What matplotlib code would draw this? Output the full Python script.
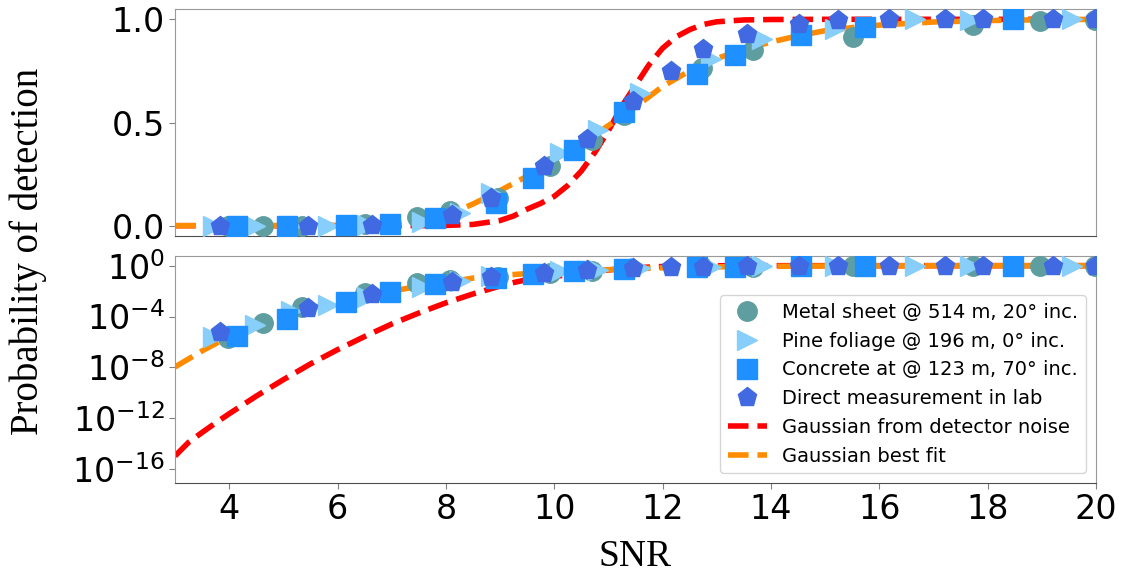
import matplotlib
matplotlib.use("Agg")
import matplotlib.pyplot as plt

# ================== data ==================
# Metal sheet @ 514 m, 20 deg inc.
metal_snr = [3.98, 4.63, 5.34, 6.51, 7.46, 8.08, 8.97, 9.92, 10.69, 11.28,
             12.72, 13.67, 15.52, 17.73, 18.97, 19.98]
metal_pd = [2.0e-6, 3.0e-5, 6.0e-4, 6.8e-3, 0.04, 0.07, 0.134, 0.287, 0.415,
            0.536, 0.762, 0.85, 0.915, 0.971, 0.99, 0.995]

# Pine foliage @ 196 m, 0 deg inc.
pine_snr = [3.71, 4.48, 5.15, 5.83, 6.55, 7.55, 8.26, 8.84, 10.11, 10.81,
            11.58, 12.9, 13.83, 15.18, 16.66, 17.67, 19.55]
pine_pd = [2.6e-6, 2.2e-5, 2.8e-4, 8.0e-4, 3.7e-3, 0.02, 0.061, 0.158, 0.351,
           0.464, 0.641, 0.81, 0.907, 0.955, 1.0, 0.995, 1.0]

# Concrete at @ 123 m, 70 deg inc.
concrete_snr = [4.14, 5.06, 6.15, 6.97, 7.8, 8.92, 9.6, 10.36, 11.28, 12.64,
                13.34, 14.55, 15.74, 18.47]
concrete_pd = [3.2e-6, 6.5e-5, 1.5e-3, 8.0e-3, 0.037, 0.11, 0.23, 0.367,
               0.552, 0.733, 0.826, 0.923, 0.963, 1.0]

# Direct measurement in lab
lab_snr = [3.83, 5.45, 6.64, 8.11, 8.83, 9.81, 10.6, 11.46, 12.15, 12.75,
           13.55, 14.52, 15.24, 16.17, 17.21, 17.91, 19.21, 19.99]
lab_pd = [5.8e-6, 4.5e-4, 5.6e-3, 0.053, 0.134, 0.287, 0.42, 0.605, 0.75,
          0.855, 0.931, 0.979, 0.995, 1.0, 1.0, 1.0, 1.0, 1.0]

# Gaussian from detector noise
noise_snr = [3.0, 3.25, 3.5, 3.75, 4.0, 4.5, 5.0, 5.5, 6.0, 6.5, 7.0, 7.5,
             8.0, 8.5, 9.0, 9.25, 9.5, 9.75, 10.0, 10.25, 10.5, 10.75, 11.0,
             11.25, 11.5, 11.75, 12.0, 12.25, 12.5, 12.75, 13.0, 13.5, 14.0,
             15.0, 16.0, 17.0, 18.0, 19.0, 20.0]
noise_pd = [1.1e-15, 1.3e-14, 7.8e-14, 4.4e-13, 2.3e-12, 5.6e-11, 1.1e-9,
            1.9e-8, 2.5e-7, 2.7e-6, 2.6e-5, 1.9e-4, 1.2e-3, 6.0e-3, 0.025,
            0.047, 0.08, 0.108, 0.142, 0.195, 0.265, 0.355, 0.46, 0.58, 0.68,
            0.78, 0.86, 0.915, 0.95, 0.975, 0.988, 0.997, 0.999, 1.0, 1.0,
            1.0, 1.0, 1.0, 1.0]

# Gaussian best fit
fit_snr = [3.0, 3.5, 4.0, 4.5, 5.0, 5.5, 6.0, 6.5, 7.0, 7.5, 8.0, 8.5, 9.0,
           9.5, 10.0, 10.5, 11.0, 11.5, 12.0, 12.5, 13.0, 13.5, 14.0, 14.5,
           15.0, 15.5, 16.0, 17.0, 18.0, 19.0, 20.0]
fit_pd = [1.1e-8, 2.0e-7, 2.8e-6, 2.2e-5, 1.1e-4, 4.5e-4, 1.4e-3, 4.2e-3,
          0.010, 0.024, 0.048, 0.105, 0.17, 0.24, 0.32, 0.395, 0.485, 0.575,
          0.675, 0.75, 0.81, 0.855, 0.89, 0.92, 0.945, 0.96, 0.972, 0.987,
          0.994, 0.998, 1.0]

SERIES = [
    (metal_snr, metal_pd, "o", "cadetblue", "Metal sheet @ 514 m, 20° inc."),
    (pine_snr, pine_pd, ">", "lightskyblue", "Pine foliage @ 196 m, 0° inc."),
    (concrete_snr, concrete_pd, "s", "dodgerblue", "Concrete at @ 123 m, 70° inc."),
    (lab_snr, lab_pd, "p", "royalblue", "Direct measurement in lab"),
]

# ================== plotting ==================
fig = plt.figure(figsize=(11.26, 5.74), dpi=100)
W, H = 1126, 574
ax_lin = fig.add_axes([175 / W, 1 - 236 / H, 921 / W, 227 / H])
ax_log = fig.add_axes([175 / W, 1 - 483 / H, 921 / W, 227 / H])


def draw(ax):
    for snr, pd_, mk, col, lab in SERIES:
        ax.plot(snr, pd_, linestyle="none", marker=mk, color=col,
                markersize=14, label=lab, zorder=3)
    ax.plot(noise_snr, noise_pd, "--", color="red", lw=4,
            label="Gaussian from detector noise", zorder=2)
    ax.plot(fit_snr, fit_pd, "--", color="darkorange", lw=4,
            label="Gaussian best fit", zorder=2)
    ax.set_xlim(3, 20)
    for side in ["left", "top", "right"]:
        ax.spines[side].set_color("0.6")
    ax.spines["bottom"].set_color("0.3")
    ax.tick_params(labelsize=24, color="0.5", length=4)


draw(ax_lin)
ax_lin.set_ylim(-0.05, 1.05)
ax_lin.set_yticks([0.0, 0.5, 1.0])
ax_lin.tick_params(axis="x", bottom=False, labelbottom=False)

draw(ax_log)
ax_log.set_yscale("log")
ax_log.set_ylim(10 ** -17.08, 10 ** 0.76)
ax_log.set_yticks([1e0, 1e-4, 1e-8, 1e-12, 1e-16])
ax_log.minorticks_off()
ax_log.set_xticks(range(4, 21, 2))

ax_log.legend(loc="lower right", fontsize=14, labelspacing=0.5)

fig.text(28 / W, 1 - 251 / H, "Probability of detection", rotation=90,
         ha="center", va="center", family="Liberation Serif", fontsize=28)
fig.text(635 / W, 1 - 557 / H, "SNR", ha="center", va="center",
         family="Liberation Serif", fontsize=27)

fig.savefig("out.png", dpi=100)
